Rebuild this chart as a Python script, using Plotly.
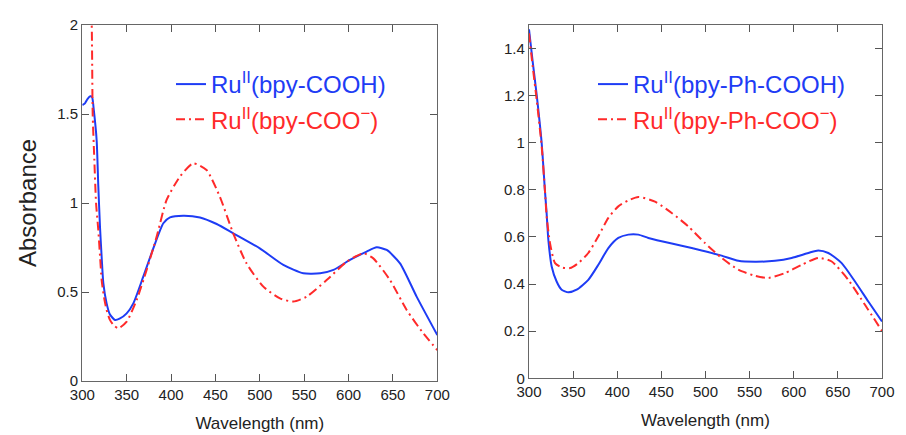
import plotly.graph_objects as go

# ---- Left panel: Ru(bpy-COOH) / Ru(bpy-COO-) ----
wl_left_acid = [300, 303, 306, 309, 311, 313, 316.2, 318, 320, 322, 323.7, 327.4, 331, 336.8, 342,
                350, 357.5, 368.7, 380, 391.3, 398.8, 413.8, 432.6, 451.4, 470, 500, 526.5, 549,
                568, 583, 601.6, 620.4, 631.7, 643, 658, 676.7, 700]
abs_left_acid = [1.55, 1.56, 1.585, 1.60, 1.595, 1.52, 1.35, 1.10, 0.86, 0.68, 0.55, 0.436, 0.375, 0.343, 0.350,
                 0.380, 0.436, 0.586, 0.745, 0.886, 0.919, 0.929, 0.919, 0.882, 0.830, 0.745, 0.652, 0.605,
                 0.605, 0.624, 0.680, 0.727, 0.751, 0.736, 0.661, 0.474, 0.258]

wl_left_base = [300, 305, 309, 310.6, 311.7, 313.5, 315.5, 318, 320, 321.8, 324.5, 327.4, 331, 335, 340.6,
                350, 361.2, 372.5, 383.8, 395, 410, 425, 440, 455, 470, 485, 504, 522.7, 537.8,
                552.8, 575.3, 597.9, 616.6, 627.9, 646.7, 665.5, 684.2, 700]
abs_left_base = [2.6, 2.4, 2.15, 2.0, 1.5, 1.25, 1.0, 0.85, 0.70, 0.567, 0.47, 0.399, 0.345, 0.315, 0.296,
                 0.333, 0.455, 0.624, 0.811, 1.017, 1.148, 1.223, 1.185, 1.035, 0.830, 0.661, 0.530, 0.464, 0.446,
                 0.474, 0.567, 0.670, 0.717, 0.689, 0.567, 0.399, 0.268, 0.174]

# ---- Right panel: Ru(bpy-Ph-COOH) / Ru(bpy-Ph-COO-) ----
wl_right_acid = [300, 304, 308.7, 314.4, 318, 320, 321.9, 325.7, 331.3, 337, 344.6, 354, 367.2, 378.6,
                 389.9, 401.2, 412.6, 423.9, 435.2, 450.3, 473, 495.7, 518.3, 537.2, 556.1, 578.8,
                 597.6, 616.5, 627.8, 639.2, 654.3, 669.4, 684.5, 700]
abs_right_acid = [1.482, 1.35, 1.203, 0.997, 0.80, 0.699, 0.589, 0.475, 0.411, 0.376, 0.365, 0.376, 0.418, 0.482,
                  0.553, 0.596, 0.610, 0.610, 0.596, 0.582, 0.563, 0.543, 0.521, 0.499, 0.495, 0.499,
                  0.511, 0.532, 0.543, 0.532, 0.489, 0.411, 0.326, 0.241]

wl_right_base = [300, 304, 308.7, 314.4, 318, 320, 323.8, 329.5, 337, 346.5, 355.9, 367.2, 378.6, 389.9,
                 401.2, 412.6, 423.9, 442.8, 461.7, 480.5, 499.4, 518.3, 537.2, 556.1, 571.2, 590.1,
                 609, 627.8, 643, 661.8, 680.7, 700]
abs_right_base = [1.465, 1.33, 1.182, 0.983, 0.80, 0.688, 0.574, 0.489, 0.471, 0.468, 0.489, 0.532, 0.603, 0.681,
                  0.730, 0.755, 0.770, 0.750, 0.702, 0.645, 0.574, 0.511, 0.461, 0.435, 0.426, 0.447,
                  0.482, 0.511, 0.496, 0.418, 0.312, 0.201]

names_left = ["Ru<sup>II</sup>(bpy-COOH)", "Ru<sup>II</sup>(bpy-COO<sup>−</sup>)"]
names_right = ["Ru<sup>II</sup>(bpy-Ph-COOH)", "Ru<sup>II</sup>(bpy-Ph-COO<sup>−</sup>)"]

BLUE = "#1e3cf5"
RED = "#ff2a2a"
FONT = "Liberation Sans, Arial, sans-serif"
DASH = "9px,4px,2px,4px"


def lbl(text, color):
    return f"<span style='color:{color}'>{text}</span>"


fig = go.Figure()
fig.add_trace(go.Scatter(x=wl_left_acid, y=abs_left_acid, mode="lines", name=lbl(names_left[0], BLUE),
                         line=dict(color=BLUE, width=2, shape="spline", smoothing=0.6),
                         xaxis="x", yaxis="y", legend="legend", legendgroup="a"))
fig.add_trace(go.Scatter(x=wl_left_base, y=abs_left_base, mode="lines", name=lbl(names_left[1], RED),
                         line=dict(color=RED, width=2, dash=DASH, shape="spline", smoothing=0.6),
                         xaxis="x", yaxis="y", legend="legend", legendgroup="b"))
fig.add_trace(go.Scatter(x=wl_right_acid, y=abs_right_acid, mode="lines", name=lbl(names_right[0], BLUE),
                         line=dict(color=BLUE, width=2, shape="spline", smoothing=0.6),
                         xaxis="x2", yaxis="y2", legend="legend2", legendgroup="c"))
fig.add_trace(go.Scatter(x=wl_right_base, y=abs_right_base, mode="lines", name=lbl(names_right[1], RED),
                         line=dict(color=RED, width=2, dash=DASH, shape="spline", smoothing=0.6),
                         xaxis="x2", yaxis="y2", legend="legend2", legendgroup="d"))

axis_common = dict(ticks="inside", ticklen=7, tickwidth=1.2, tickcolor="#555555",
                   showline=True, linecolor="#666666", linewidth=1.3, mirror="ticks",
                   showgrid=False, zeroline=False, automargin=False,
                   tickfont=dict(family=FONT, size=15, color="#222222"))

W, H = 906, 435
legend_common = dict(xanchor="left", yanchor="top", bgcolor="rgba(0,0,0,0)",
                     font=dict(family=FONT, size=24), tracegroupgap=1, itemwidth=30)

fig.update_layout(
    width=W, height=H,
    margin=dict(l=0, r=0, t=0, b=0, autoexpand=False),
    paper_bgcolor="white", plot_bgcolor="white",
    font=dict(family=FONT, color="#222222"),
    xaxis=dict(domain=[82.3 / W, 437.3 / W], range=[300, 700], dtick=50, anchor="y",
               title=dict(text="Wavelength (nm)", font=dict(family=FONT, size=17, color="#222222"), standoff=14),
               **axis_common),
    yaxis=dict(domain=[1 - 381 / H, 1 - 25 / H], range=[0, 2], dtick=0.5, anchor="x", **axis_common),
    xaxis2=dict(domain=[529 / W, 882 / W], range=[300, 700], dtick=50, anchor="y2",
                title=dict(text="Wavelength (nm)", font=dict(family=FONT, size=17, color="#222222"), standoff=14),
                **axis_common),
    yaxis2=dict(domain=[1 - 378.3 / H, 1 - 25 / H], range=[0, 1.5], dtick=0.2, anchor="x2", **axis_common),
    legend=dict(x=171 / W, y=1 - 62 / H, **legend_common),
    legend2=dict(x=593 / W, y=1 - 62 / H, **legend_common),
    showlegend=True,
    annotations=[dict(text="Absorbance", x=27 / W, y=1 - 203 / H, xref="paper", yref="paper",
                      textangle=-90, showarrow=False, xanchor="center", yanchor="middle",
                      font=dict(family=FONT, size=24, color="#222222"))],
)

fig.write_html("out.html")
